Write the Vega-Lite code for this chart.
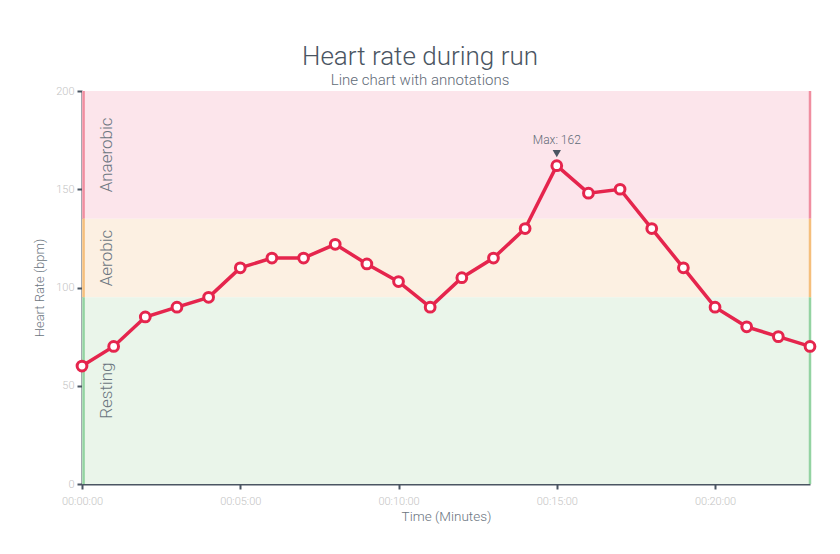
{
  "$schema": "https://vega.github.io/schema/vega-lite/v6.json",
  "width": 728,
  "height": 393,
  "autosize": {"type": "none"},
  "padding": {"left": 82, "top": 91, "right": 30, "bottom": 70},
  "background": "white",
  "config": {"view": {"stroke": null}, "font": "Roboto"},
  "title": {
    "text": "Heart rate during run",
    "subtitle": "Line chart with annotations",
    "anchor": "middle",
    "dx": -26,
    "offset": -3,
    "font": "Roboto",
    "fontSize": 26,
    "fontWeight": 300,
    "color": "#4a5562",
    "subtitleFont": "Roboto",
    "subtitleFontSize": 15,
    "subtitleFontWeight": 300,
    "subtitleColor": "#5f6b77",
    "subtitlePadding": 3
  },
  "datasets": {
    "bands": [
      {"zone": "Anaerobic", "lo": 135, "hi": 200, "mid": 167.5},
      {"zone": "Aerobic", "lo": 95, "hi": 135, "mid": 115},
      {"zone": "Resting", "lo": 0, "hi": 95, "mid": 47.5}
    ],
    "hr": [
      {"minute": 0, "bpm": 60}, {"minute": 1, "bpm": 70}, {"minute": 2, "bpm": 85},
      {"minute": 3, "bpm": 90}, {"minute": 4, "bpm": 95}, {"minute": 5, "bpm": 110},
      {"minute": 6, "bpm": 115}, {"minute": 7, "bpm": 115}, {"minute": 8, "bpm": 122},
      {"minute": 9, "bpm": 112}, {"minute": 10, "bpm": 103}, {"minute": 11, "bpm": 90},
      {"minute": 12, "bpm": 105}, {"minute": 13, "bpm": 115}, {"minute": 14, "bpm": 130},
      {"minute": 15, "bpm": 162}, {"minute": 16, "bpm": 148}, {"minute": 17, "bpm": 150},
      {"minute": 18, "bpm": 130}, {"minute": 19, "bpm": 110}, {"minute": 20, "bpm": 90},
      {"minute": 21, "bpm": 80}, {"minute": 22, "bpm": 75}, {"minute": 23, "bpm": 70}
    ],
    "ann": [{"minute": 15, "bpm": 162, "label": "Max: 162"}]
  },
  "layer": [
    {
      "data": {"name": "bands"},
      "mark": {"type": "rect"},
      "encoding": {
        "x": {"datum": 0, "type": "quantitative",
          "scale": {"domain": [0, 23], "nice": false, "zero": false},
          "axis": {
            "title": "Time (Minutes)",
            "values": [0, 5, 10, 15, 20],
            "labelExpr": "'00:' + (datum.value < 10 ? '0' : '') + datum.value + ':00'",
            "labelFlush": false,
            "labelColor": "#c4c4c4", "labelFontSize": 11, "labelFont": "Roboto", "labelFontWeight": 300,
            "titleColor": "#6b7580", "titleFontSize": 13.5, "titleFont": "Roboto", "titleFontWeight": 300,
            "titlePadding": 3,
            "domainColor": "#4a5562", "domainWidth": 2,
            "tickColor": "#4a5562", "tickWidth": 2, "tickSize": 5,
            "grid": false, "labelPadding": 6
          }},
        "x2": {"datum": 23},
        "y": {"field": "lo", "type": "quantitative",
          "scale": {"domain": [0, 200], "nice": false},
          "axis": {
            "title": "Heart Rate (bpm)",
            "values": [0, 50, 100, 150, 200],
            "labelColor": "#c4c4c4", "labelFontSize": 11, "labelFont": "Roboto", "labelFontWeight": 300,
            "titleColor": "#6b7580", "titleFontSize": 13, "titleFont": "Roboto", "titleFontWeight": 300,
            "titlePadding": 9,
            "domainColor": "#4a5562", "domainWidth": 2,
            "tickColor": "#4a5562", "tickWidth": 2, "tickSize": 5,
            "grid": false, "labelPadding": 3
          }},
        "y2": {"field": "hi"},
        "fill": {"field": "zone", "type": "nominal", "legend": null,
          "scale": {"domain": ["Anaerobic", "Aerobic", "Resting"], "range": ["#fce5eb", "#fcf0e2", "#eaf5ea"]}}
      }
    },
    {
      "data": {"name": "bands"},
      "mark": {"type": "rule", "strokeWidth": 2.5},
      "encoding": {
        "x": {"datum": 0.05, "type": "quantitative"},
        "y": {"field": "lo", "type": "quantitative"},
        "y2": {"field": "hi"},
        "stroke": {"field": "zone", "type": "nominal", "legend": null,
          "scale": {"domain": ["Anaerobic", "Aerobic", "Resting"], "range": ["#f08ea0", "#f5bf7c", "#93d3a2"]}}
      }
    },
    {
      "data": {"name": "bands"},
      "mark": {"type": "rule", "strokeWidth": 2.5},
      "encoding": {
        "x": {"datum": 23, "type": "quantitative"},
        "y": {"field": "lo", "type": "quantitative"},
        "y2": {"field": "hi"},
        "stroke": {"field": "zone", "type": "nominal", "legend": null}
      }
    },
    {
      "data": {"name": "bands"},
      "mark": {"type": "text", "angle": 270, "font": "Roboto", "fontWeight": 300, "fontSize": 17, "color": "#6b7580", "align": "center", "baseline": "middle"},
      "encoding": {
        "x": {"datum": 0.8, "type": "quantitative"},
        "y": {"field": "mid", "type": "quantitative"},
        "text": {"field": "zone"}
      }
    },
    {
      "data": {"name": "hr"},
      "mark": {"type": "line", "color": "#e5254d", "strokeWidth": 3.5},
      "encoding": {
        "x": {"field": "minute", "type": "quantitative"},
        "y": {"field": "bpm", "type": "quantitative"}
      }
    },
    {
      "data": {"name": "hr"},
      "mark": {"type": "point", "filled": true, "fill": "white", "stroke": "#e5254d", "strokeWidth": 3, "size": 95, "opacity": 1},
      "encoding": {
        "x": {"field": "minute", "type": "quantitative"},
        "y": {"field": "bpm", "type": "quantitative"}
      }
    },
    {
      "data": {"name": "ann"},
      "mark": {"type": "point", "shape": "triangle-down", "filled": true, "color": "#4a5562", "size": 70, "yOffset": -12, "opacity": 1},
      "encoding": {
        "x": {"field": "minute", "type": "quantitative"},
        "y": {"field": "bpm", "type": "quantitative"}
      }
    },
    {
      "data": {"name": "ann"},
      "mark": {"type": "text", "font": "Roboto", "fontWeight": 300, "fontSize": 12, "color": "#5f6b77", "dy": -26, "baseline": "middle"},
      "encoding": {
        "x": {"field": "minute", "type": "quantitative"},
        "y": {"field": "bpm", "type": "quantitative"},
        "text": {"field": "label"}
      }
    }
  ]
}
